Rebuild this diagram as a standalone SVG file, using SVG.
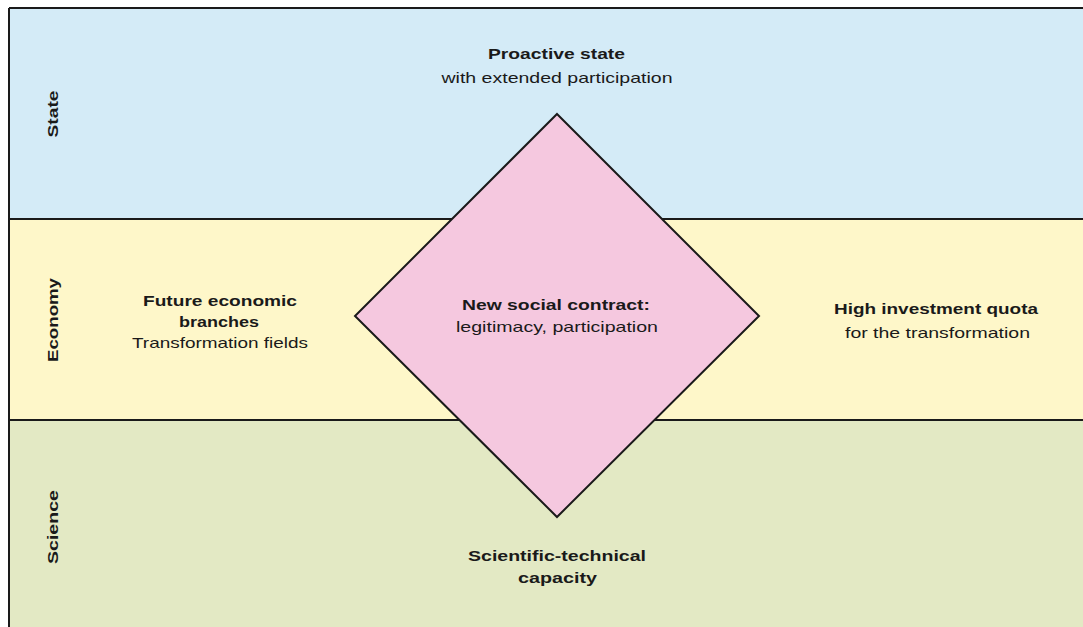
<svg xmlns="http://www.w3.org/2000/svg" width="1083" height="627" viewBox="0 0 1083 627">
<style>
text{font-family:"Liberation Sans",Arial,sans-serif;font-size:15px;fill:#1a1a1a;text-anchor:middle}
.b{font-weight:bold}
.band{stroke:#1a1a1a;stroke-width:2}
</style>
<rect width="1083" height="627" fill="#ffffff"/>
<g id="band-state">
<rect x="9" y="8" width="1080" height="211" fill="#d4ebf7"/>
<text class="b" transform="translate(58,114) rotate(-90)" textLength="47" lengthAdjust="spacingAndGlyphs">State</text>
</g>
<g id="band-economy">
<rect x="9" y="219" width="1080" height="201" fill="#fef7c9"/>
<text class="b" transform="translate(58,320) rotate(-90)" textLength="84" lengthAdjust="spacingAndGlyphs">Economy</text>
</g>
<g id="band-science">
<rect x="9" y="420" width="1080" height="210" fill="#e3e9c4"/>
<text class="b" transform="translate(58,527) rotate(-90)" textLength="74" lengthAdjust="spacingAndGlyphs">Science</text>
</g>
<g id="lines">
<path class="band" d="M9,8H1083M9,219H1083M9,420H1083M9,8V627" fill="none"/>
</g>
<g id="diamond">
<polygon points="557,114 759,316 557,517 355,316" fill="#f5c8df" stroke="#1a1a1a" stroke-width="2" stroke-linejoin="miter"/>
<text class="b" x="556" y="310" textLength="188" lengthAdjust="spacingAndGlyphs">New social contract:</text>
<text x="557" y="332" textLength="202" lengthAdjust="spacingAndGlyphs">legitimacy, participation</text>
</g>
<g id="state-label">
<text class="b" x="556.5" y="59" textLength="137" lengthAdjust="spacingAndGlyphs">Proactive state</text>
<text x="557" y="83" textLength="231" lengthAdjust="spacingAndGlyphs">with extended participation</text>
</g>
<g id="economy-left">
<text class="b" x="220" y="306" textLength="154" lengthAdjust="spacingAndGlyphs">Future economic</text>
<text class="b" x="219" y="327" textLength="80" lengthAdjust="spacingAndGlyphs">branches</text>
<text x="220" y="348" textLength="176" lengthAdjust="spacingAndGlyphs">Transformation fields</text>
</g>
<g id="economy-right">
<text class="b" x="936" y="314" textLength="204" lengthAdjust="spacingAndGlyphs">High investment quota</text>
<text x="937.5" y="338" textLength="185" lengthAdjust="spacingAndGlyphs">for the transformation</text>
</g>
<g id="science-label">
<text class="b" x="557" y="561" textLength="178" lengthAdjust="spacingAndGlyphs">Scientific-technical</text>
<text class="b" x="557.5" y="583" textLength="79" lengthAdjust="spacingAndGlyphs">capacity</text>
</g>
</svg>
